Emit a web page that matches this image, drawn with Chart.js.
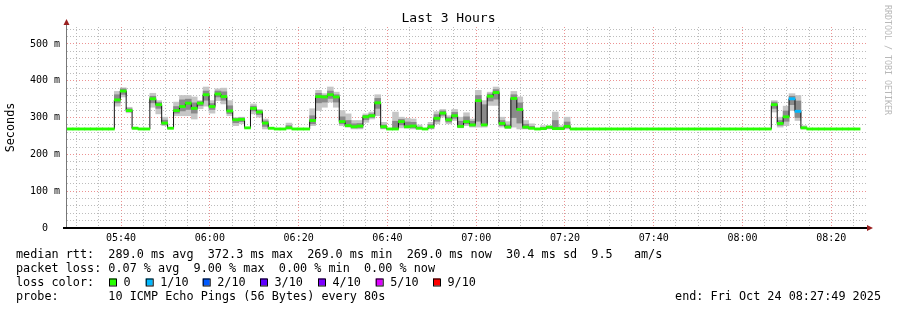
<!DOCTYPE html>
<html lang="en">
<head>
<meta charset="UTF-8">
<title>Last 3 Hours</title>
<style>
  body { margin: 0; background: #fff; overflow: hidden; }
  canvas { display: block; }
</style>
<script src="https://cdn.jsdelivr.net/npm/chart.js"></script>
</head>
<body>
<canvas id="rtt" width="897" height="310"></canvas>
<script>
// time axis is minutes after midnight, one RRD step is 80 s
const startMin = 327 + 49 / 60;   // 05:27:49
const endMin = 507 + 49 / 60;     // 08:27:49
const stepMin = 80 / 60;

// median rtt per step (ms)
const median = [
  269, 269, 269, 269, 269, 269, 269, 269, 348, 372,
  319, 271, 269, 269, 351, 335, 285, 271, 319, 330,
  339, 325, 339, 362, 330, 364, 357, 318, 294, 295,
  272, 325, 315, 285, 271, 269, 269, 272, 269, 269,
  269, 292, 357, 356, 362, 356, 289, 278, 275, 277,
  302, 305, 340, 275, 269, 269, 289, 275, 277, 271,
  269, 275, 298, 312, 294, 305, 276, 289, 280, 346,
  280, 358, 368, 284, 274, 352, 322, 274, 271, 269,
  270, 274, 270, 270, 276, 269, 269, 269, 269, 269,
  269, 269, 269, 269, 269, 269, 269, 269, 269, 269,
  269, 269, 269, 269, 269, 269, 269, 269, 269, 269,
  269, 269, 269, 269, 269, 269, 269, 269, 269, 335,
  284, 302, 351, 317, 272, 269, 269, 269, 269, 269,
  269, 269, 269, 269
];

// steps that lost pings (out of 10)
const lossSteps = [122, 123];
const lossCount = [1, 1];

// smoke: spread of the 10 pings, only where it shows
const smokeSteps = [8, 9, 10, 11, 14, 15, 16, 18, 19, 20, 21, 22, 23, 24, 25, 26, 27, 28, 29, 31,
  32, 33, 37, 41, 42, 43, 44, 45, 46, 47, 48, 49, 50, 51, 52, 53, 55, 56, 57, 58,
  59, 61, 62, 63, 64, 65, 66, 67, 68, 69, 70, 71, 72, 73, 74, 75, 76, 77, 78, 80,
  81, 82, 83, 84, 119, 120, 121, 122, 123, 124];
const smokeLo = [331, 356, 313, 269, 328, 310, 278, 305, 305, 305, 296, 324, 331, 312, 346, 337, 305, 278, 283, 310,
  301, 269, 269, 278, 319, 328, 342, 328, 278, 274, 269, 269, 287, 296, 305, 269, 269, 272, 271, 269,
  269, 269, 283, 301, 283, 292, 272, 278, 274, 274, 274, 333, 333, 274, 271, 274, 269, 269, 269, 269,
  269, 269, 269, 269, 315, 274, 278, 319, 292, 269];
const smokeHi = [371, 381, 328, 274, 366, 346, 301, 342, 360, 360, 356, 346, 383, 346, 378, 380, 346, 300, 301, 337,
  322, 296, 285, 324, 374, 365, 383, 369, 319, 310, 292, 292, 310, 315, 362, 287, 315, 301, 298, 296,
  280, 287, 316, 322, 305, 322, 301, 313, 296, 374, 346, 369, 383, 301, 289, 371, 356, 292, 283, 278,
  278, 315, 278, 301, 346, 301, 331, 365, 360, 278];
const coreLo = [340, 363, 316, 270, 340, 325, 281, 312, 318, 322, 312, 332, 347, 322, 356, 347, 311, 286, 289, 318,
  308, 276, 271, 283, 340, 342, 352, 342, 283, 276, 272, 272, 294, 300, 325, 271, 271, 280, 273, 272,
  270, 271, 290, 306, 288, 298, 274, 283, 277, 290, 279, 345, 350, 278, 272, 300, 285, 271, 270, 270,
  271, 271, 270, 272, 325, 279, 290, 335, 300, 270];
const coreHi = [362, 378, 324, 272, 358, 341, 293, 330, 348, 350, 340, 343, 372, 338, 372, 370, 332, 297, 299, 331,
  319, 291, 278, 305, 366, 360, 372, 362, 302, 292, 283, 284, 306, 310, 352, 280, 290, 295, 288, 287,
  274, 281, 308, 318, 300, 314, 290, 302, 290, 360, 335, 364, 376, 292, 280, 362, 340, 282, 276, 273,
  276, 292, 273, 288, 342, 292, 318, 358, 345, 274];

// smokeping loss colours: 0, 1/10, 2/10, 3/10, 4/10, 5/10, 9/10
const lossLabels = ['0', '1/10', '2/10', '3/10', '4/10', '5/10', '9/10'];
const lossColors = ['#26ff00', '#00b8ff', '#0059ff', '#5e00ff', '#7e00ff', '#dd00ff', '#ff0000'];

const statLines = [
  'median rtt:  289.0 ms avg  372.3 ms max  269.0 ms min  269.0 ms now  30.4 ms sd  9.5   am/s',
  'packet loss: 0.07 % avg  9.00 % max  0.00 % min  0.00 % now',
  'loss color:',
  'probe:       10 ICMP Echo Pings (56 Bytes) every 80s'
];
const endText = 'end: Fri Oct 24 08:27:49 2025';

const MONO = '"DejaVu Sans Mono", "Liberation Mono", monospace';
const majorGrid = 'rgba(230, 110, 110, 0.75)';
const minorGrid = 'rgba(165, 165, 165, 0.75)';

function mid(k) { return startMin + (k + 0.5) * stepMin; }
function lossAt(k) {
  const i = lossSteps.indexOf(k);
  return i < 0 ? 0 : lossCount[i];
}

const smokeData = smokeSteps.map((k, i) => ({ x: mid(k), y: [smokeLo[i], smokeHi[i]] }));
const coreData = smokeSteps.map((k, i) => ({ x: mid(k), y: [coreLo[i], coreHi[i]] }));
const markData = median.map((m, k) => ({ x: mid(k), y: [m - 3, m + 3], loss: lossAt(k) }));
const lineData = median.map((m, k) => ({ x: startMin + k * stepMin, y: m }));
lineData.push({ x: startMin + median.length * stepMin, y: median[median.length - 1] });

// grid ticks: every 5 minutes / every 20 ms
const xTicks = [];
for (let t = 330; t < endMin; t += 5) xTicks.push({ value: t });
const yTicks = [];
for (let v = 0; v <= 540; v += 20) yTicks.push({ value: v });

function pad2(n) { return (n < 10 ? '0' : '') + n; }

const decor = {
  id: 'decor',
  afterDraw(chart) {
    const { ctx, chartArea: a } = chart;
    ctx.save();

    // axes
    ctx.strokeStyle = '#777';
    ctx.lineWidth = 1;
    ctx.beginPath();
    ctx.moveTo(a.left - 0.5, a.bottom);
    ctx.lineTo(a.left - 0.5, a.top - 4);
    ctx.stroke();
    ctx.strokeStyle = '#000';
    ctx.lineWidth = 2;
    ctx.beginPath();
    ctx.moveTo(a.left - 4, a.bottom);
    ctx.lineTo(a.right + 2, a.bottom);
    ctx.stroke();

    // arrows
    ctx.fillStyle = '#9a2020';
    ctx.beginPath();
    ctx.moveTo(a.left - 0.5, a.top - 8);
    ctx.lineTo(a.left - 3.5, a.top - 2);
    ctx.lineTo(a.left + 2.5, a.top - 2);
    ctx.closePath();
    ctx.fill();
    ctx.beginPath();
    ctx.moveTo(a.right + 7, a.bottom);
    ctx.lineTo(a.right + 1, a.bottom - 3);
    ctx.lineTo(a.right + 1, a.bottom + 3);
    ctx.closePath();
    ctx.fill();

    // title
    ctx.fillStyle = '#000';
    ctx.font = '13px ' + MONO;
    ctx.textAlign = 'center';
    ctx.textBaseline = 'middle';
    ctx.fillText('Last 3 Hours', 448.5, 19);

    // y axis label
    ctx.save();
    ctx.translate(11, (a.top + a.bottom) / 2);
    ctx.rotate(-Math.PI / 2);
    ctx.font = '11.8px ' + MONO;
    ctx.fillText('Seconds', 0, 0);
    ctx.restore();

    // watermark
    ctx.save();
    ctx.translate(887, 5);
    ctx.rotate(Math.PI / 2);
    ctx.font = '8.3px ' + MONO;
    ctx.fillStyle = '#b8b8b8';
    ctx.textAlign = 'left';
    ctx.fillText('RRDTOOL / TOBI OETIKER', 0, 0);
    ctx.restore();

    // stats
    ctx.font = '11.8px ' + MONO;
    ctx.textAlign = 'left';
    ctx.fillStyle = '#000';
    const rows = [255, 268.5, 282.5, 296.5];
    statLines.forEach((s, i) => ctx.fillText(s, 16, rows[i]));
    const boxX = [109, 145.7, 202.7, 260, 318, 375.7, 433];
    lossLabels.forEach((lab, i) => {
      ctx.fillStyle = lossColors[i];
      ctx.fillRect(boxX[i], rows[2] - 4, 7, 7);
      ctx.strokeStyle = '#000';
      ctx.lineWidth = 1;
      ctx.strokeRect(boxX[i] + 0.5, rows[2] - 3.5, 7, 7);
      ctx.fillStyle = '#000';
      ctx.fillText(lab, boxX[i] + 14.5, rows[2]);
    });
    ctx.textAlign = 'right';
    ctx.fillText(endText, 881, rows[3]);
    ctx.restore();
  }
};

new Chart(document.getElementById('rtt'), {
  data: {
    datasets: [
      {
        type: 'bar', data: markData, order: 0, grouped: false,
        barPercentage: 1, categoryPercentage: 1, borderWidth: 0,
        backgroundColor: c => lossColors[(c.raw && c.raw.loss) || 0]
      },
      {
        // horizontal first, then the jump at the next step's start
        type: 'line', data: lineData, order: 1, stepped: 'before',
        borderColor: '#111', borderWidth: 1, pointRadius: 0, fill: false
      },
      {
        type: 'bar', data: coreData, order: 2, grouped: false,
        barPercentage: 1, categoryPercentage: 1, borderWidth: 0, backgroundColor: '#8a8a8a'
      },
      {
        type: 'bar', data: smokeData, order: 3, grouped: false,
        barPercentage: 1, categoryPercentage: 1, borderWidth: 0, backgroundColor: '#c6c6c6'
      }
    ]
  },
  options: {
    responsive: false,
    animation: false,
    layout: { padding: { left: 0, right: 31, top: 27, bottom: 0 } },
    plugins: { legend: { display: false }, tooltip: { enabled: false } },
    scales: {
      x: {
        type: 'linear', min: startMin, max: endMin, offset: false,
        afterBuildTicks: s => { s.ticks = xTicks.slice(); },
        afterFit: s => { s.height = 82; },
        grid: { offset: false, drawTicks: false, color: c => (c.tick && c.tick.value % 20 === 0) ? majorGrid : minorGrid },
        border: { display: false, dash: [1, 2] },
        ticks: {
          autoSkip: false, maxRotation: 0, padding: 4, color: '#000',
          font: { family: MONO, size: 10 },
          callback: v => v % 20 === 0 ? pad2(Math.floor(v / 60)) + ':' + pad2(v % 60) : ''
        }
      },
      y: {
        type: 'linear', min: 0, max: 546,
        afterBuildTicks: s => { s.ticks = yTicks.slice(); },
        afterFit: s => { s.width = 67; },
        grid: { drawTicks: false, color: c => (c.tick && c.tick.value % 100 === 0) ? majorGrid : minorGrid },
        border: { display: false, dash: [1, 2] },
        ticks: {
          autoSkip: false, padding: 7, color: '#000',
          font: { family: MONO, size: 10 },
          callback: v => v % 100 === 0 ? (v === 0 ? '0  ' : v + ' m') : ''
        }
      }
    }
  },
  plugins: [decor]
});
</script>
</body>
</html>
